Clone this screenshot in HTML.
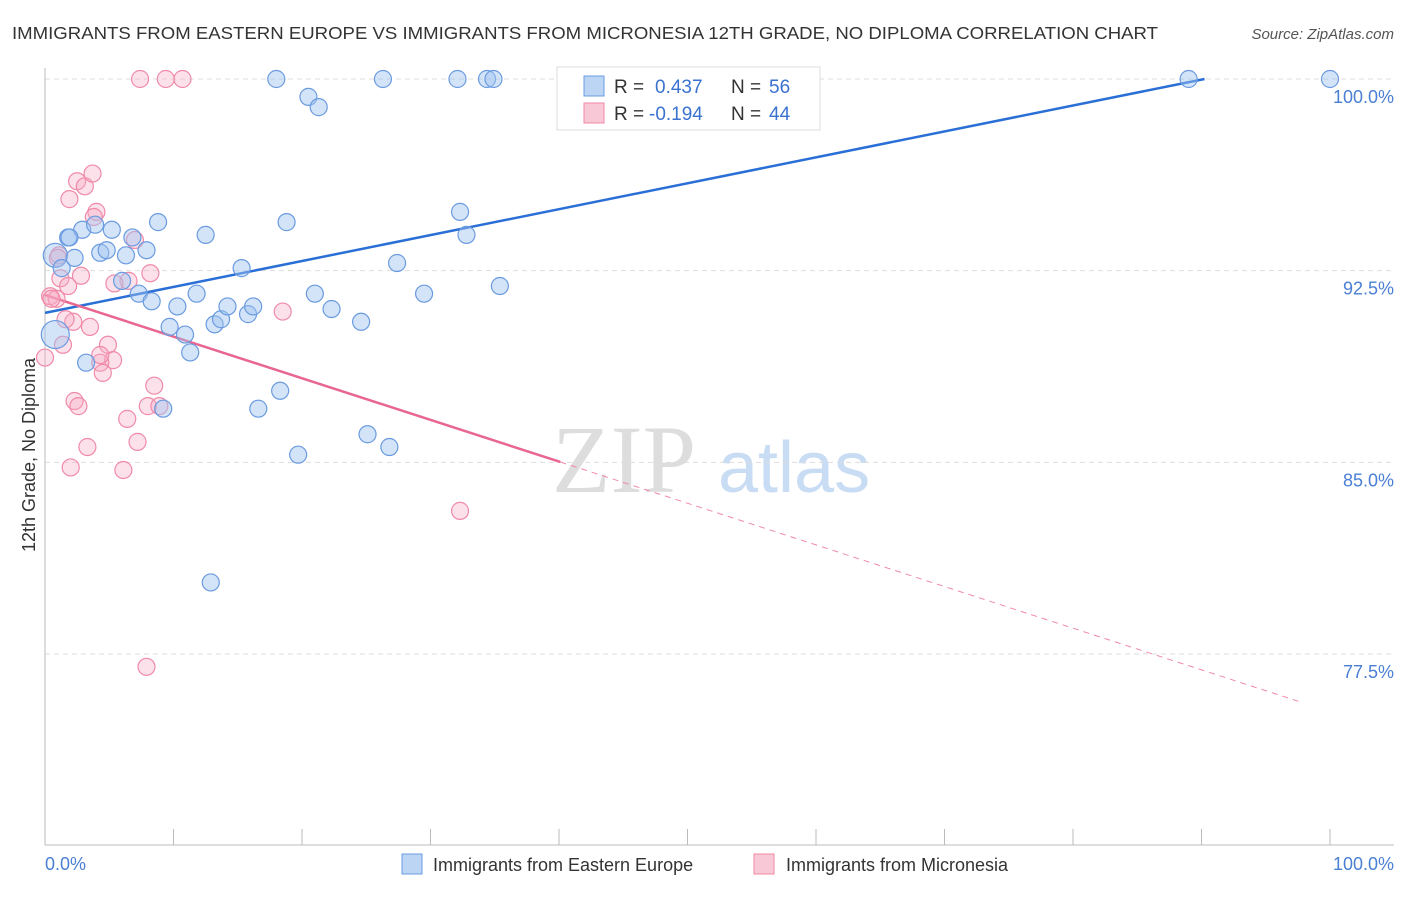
<!DOCTYPE html>
<html><head><meta charset="utf-8"><style>
body{margin:0;background:#fff;font-family:"Liberation Sans",sans-serif}
</style></head><body>
<svg width="1406" height="892" xmlns="http://www.w3.org/2000/svg">
<text x="12" y="39" font-size="17.5" fill="#333" textLength="1146" lengthAdjust="spacingAndGlyphs">IMMIGRANTS FROM EASTERN EUROPE VS IMMIGRANTS FROM MICRONESIA 12TH GRADE, NO DIPLOMA CORRELATION CHART</text>
<text x="1394" y="39" font-size="15" fill="#555" text-anchor="end" font-style="italic">Source: ZipAtlas.com</text>
<g><text x="552" y="492" font-size="96" fill="#ddd" font-family="Liberation Serif,serif">ZIP</text><text x="718" y="492" font-size="72" fill="#c8dcf4">atlas</text></g>
<g id="grid"></g><g id="axes"></g><g id="lines"></g><g id="pts"></g>
<text transform="translate(35,455) rotate(-90)" font-size="18" fill="#333" text-anchor="middle">12th Grade, No Diploma</text>
<text x="45" y="870" font-size="18" fill="#4a7fd4">0.0%</text>
<text x="1394" y="870" font-size="18" fill="#4a7fd4" text-anchor="end">100.0%</text>
<g>
<rect x="557" y="67" width="263" height="63" fill="#fff" stroke="#ddd"/>
<rect x="584" y="76" width="20" height="20" fill="#bcd5f5" stroke="#6a9be0"/>
<rect x="584" y="103" width="20" height="20" fill="#f9c8d6" stroke="#f08aa8"/>
<text y="93" font-size="19" fill="#333"><tspan x="614">R =</tspan><tspan x="655" fill="#3a72d0">0.437</tspan><tspan x="731">N =</tspan><tspan x="769" fill="#3a72d0">56</tspan></text>
<text y="120" font-size="19" fill="#333"><tspan x="614">R =</tspan><tspan x="649" fill="#3a72d0">-0.194</tspan><tspan x="731">N =</tspan><tspan x="769" fill="#3a72d0">44</tspan></text>
</g>
<g>
<rect x="402" y="854" width="20" height="20" fill="#bcd5f5" stroke="#6a9be0"/>
<text x="433" y="871" font-size="18" fill="#333">Immigrants from Eastern Europe</text>
<rect x="754" y="854" width="20" height="20" fill="#f9c8d6" stroke="#f08aa8"/>
<text x="786" y="871" font-size="18" fill="#333">Immigrants from Micronesia</text>
</g>
</svg>
<script>
const yTicks=[100,92.5,85,77.5];
const yTickLabels=["100.0%","92.5%","85.0%","77.5%"];
const blueX=[0.8,1.3,1.8,2.3,2.9,3.9,4.3,4.8,5.2,6.0,6.3,6.8,7.3,7.9,8.3,8.8,9.7,10.3,10.9,11.3,11.8,12.5,13.2,13.7,14.2,15.3,15.8,16.2,16.6,18.0,18.3,18.8,19.7,20.5,21.0,21.3,22.3,24.6,25.1,26.3,26.8,27.4,29.5,32.1,32.3,32.8,34.4,34.9,35.4,89.0,100,9.2,3.2,12.9,0.8,1.9];
const blueY=[93.1,92.6,93.8,93.0,94.1,94.3,93.2,93.3,94.1,92.1,93.1,93.8,91.6,93.3,91.3,94.4,90.3,91.1,90.0,89.3,91.6,93.9,90.4,90.6,91.1,92.6,90.8,91.1,87.1,100,87.8,94.4,85.3,99.3,91.6,98.9,91.0,90.5,86.1,100,85.6,92.8,91.6,100,94.8,93.9,100,100,91.9,100,100,87.1,88.9,80.3,90.0,93.8];
const blueR=[12,8.5,8.5,8.5,8.5,8.5,8.5,8.5,8.5,8.5,8.5,8.5,8.5,8.5,8.5,8.5,8.5,8.5,8.5,8.5,8.5,8.5,8.5,8.5,8.5,8.5,8.5,8.5,8.5,8.5,8.5,8.5,8.5,8.5,8.5,8.5,8.5,8.5,8.5,8.5,8.5,8.5,8.5,8.5,8.5,8.5,8.5,8.5,8.5,8.5,8.5,8.5,8.5,8.5,14,8.5];
const pinkX=[7.4,9.4,10.7,2.5,3.1,3.7,1.9,4.0,3.8,7.0,1.1,8.2,2.8,1.2,6.5,5.4,1.8,0.4,0.9,18.5,2.2,1.6,3.5,1.4,4.9,5.3,4.3,4.5,0,8.5,2.3,2.6,8.0,8.9,6.4,7.2,3.3,2.0,6.1,32.3,7.9,0.5,4.3,1.0];
const pinkY=[100,100,100,96.0,95.8,96.3,95.3,94.8,94.6,93.7,93.1,92.4,92.3,92.2,92.1,92.0,91.9,91.5,91.4,90.9,90.5,90.6,90.3,89.6,89.6,89.0,88.9,88.5,89.1,88.0,87.4,87.2,87.2,87.2,86.7,85.8,85.6,84.8,84.7,83.1,77.0,91.4,89.2,93.0];
const blueTrend=[90.85,0.1014]; // intercept, slope
const pinkTrend=[91.55,-0.163];
const pinkSolidEnd=40.1, pinkDashEnd=97.7;
const X=v=>45+v*12.85, Y=v=>79+(100-v)*25.556;
const NS="http://www.w3.org/2000/svg";
function mk(t,a,p){const e=document.createElementNS(NS,t);for(const k in a)e.setAttribute(k,a[k]);p.appendChild(e);return e;}
const grid=document.getElementById('grid'),axes=document.getElementById('axes'),lines=document.getElementById('lines'),pts=document.getElementById('pts');
yTicks.forEach((t,i)=>{
 const l=mk('line',{x1:45,x2:1394,y1:Y(t),y2:Y(t),stroke:'#ddd','stroke-dasharray':'5,4'},grid);
 
 
 const tx=mk('text',{x:1394,y:Y(t)+24,'font-size':18,fill:'#4a7fd4','text-anchor':'end'},grid);
 tx.textContent=yTickLabels[i];
 
 
});
const ya=mk('line',{x1:45,x2:45,y1:68,y2:845,stroke:'#bbb'},axes);


const xa=mk('line',{x1:45,x2:1394,y1:845,y2:845,stroke:'#bbb'},axes);


for(let i=0;i<=10;i++){const tk=mk('line',{x1:X(i*10),x2:X(i*10),y1:829,y2:845,stroke:'#bbb'},axes);
 
 }
function drawPts(xs,ys,rs,fill,stroke,name){xs.forEach((x,i)=>{
 const c=mk('circle',{cx:X(x),cy:Y(ys[i]),r:rs?rs[i]:8.5,fill:fill,stroke:stroke,'stroke-width':1.2},pts);
 
 });}
drawPts(pinkX,pinkY,null,'rgba(246,170,195,0.35)','#f08aa8','micronesia-point');
drawPts(blueX,blueY,blueR,'rgba(160,195,240,0.45)','#6a9be0','eastern-europe-point');
const bEnd=(100-blueTrend[0])/blueTrend[1];
const bl=mk('line',{x1:X(0),y1:Y(blueTrend[0]),x2:X(bEnd),y2:Y(100),stroke:'#2a6fd6','stroke-width':2.5},lines);


const pl=mk('line',{x1:X(0),y1:Y(pinkTrend[0]),x2:X(pinkSolidEnd),y2:Y(pinkTrend[0]+pinkTrend[1]*pinkSolidEnd),stroke:'#e8668f','stroke-width':2.5},lines);


const pd=mk('line',{x1:X(pinkSolidEnd),y1:Y(pinkTrend[0]+pinkTrend[1]*pinkSolidEnd),x2:X(pinkDashEnd),y2:Y(pinkTrend[0]+pinkTrend[1]*pinkDashEnd),stroke:'#f08aa8','stroke-width':1,'stroke-dasharray':'6,5'},lines);


</script>
</body></html>
